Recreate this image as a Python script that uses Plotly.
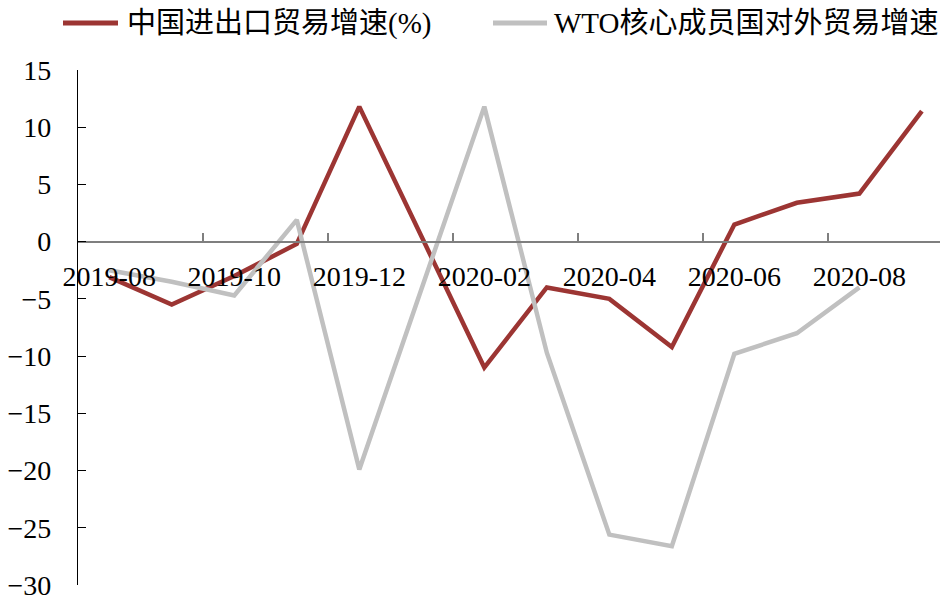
import plotly.graph_objects as go

# Monthly categories
months = ["2019-08", "2019-09", "2019-10", "2019-11", "2019-12", "2020-01", "2020-02",
          "2020-03", "2020-04", "2020-05", "2020-06", "2020-07", "2020-08", "2020-09"]

# Year-on-year trade growth (%)
china_trade = [-3.1, -5.5, -3.0, -0.2, 11.8, 0.3, -11.0, -4.0, -5.0, -9.2, 1.5, 3.4, 4.2, 11.4]
wto_trade = [-2.5, -3.5, -4.7, 1.9, -19.9, -4.0, 11.8, -9.7, -25.6, -26.6, -9.8, -8.0, -4.0, None]

series_names = ["中国进出口贸易增速(%)", "WTO核心成员国对外贸易增速"]
series_colors = ["#9C3533", "#C0C0C0"]

W, H = 942, 597
ML, MR, MT, MB = 78, 2, 70, 12
PW, PH = W - ML - MR, H - MT - MB

Y_MIN, Y_MAX = -30, 15

FONT = "Liberation Serif, Times New Roman, Noto Sans CJK SC, serif"


def px_x(px):
    return (px - ML) / PW


def px_y(py):
    return (H - MB - py) / PH


fig = go.Figure()
for name, vals, col in zip(series_names, [china_trade, wto_trade], series_colors):
    fig.add_trace(go.Scatter(
        x=months, y=vals, name=name, mode="lines",
        line=dict(color=col, width=4.5), showlegend=False,
    ))

# Hand-placed legend row across the top
legend_items = [(63, 118, 125, 29), (493, 547, 552, 29)]
shapes, annotations = [], []
ly = 23
for (x0, x1, tx, fs), name, col in zip(legend_items, series_names, series_colors):
    shapes.append(dict(type="line", xref="paper", yref="paper",
                       x0=px_x(x0), x1=px_x(x1), y0=px_y(ly), y1=px_y(ly),
                       line=dict(color=col, width=5)))
    annotations.append(dict(xref="paper", yref="paper", x=px_x(tx), y=px_y(ly),
                            xanchor="left", yanchor="middle", showarrow=False,
                            text=name, font=dict(family=FONT, size=fs, color="black")))

fig.update_layout(
    width=W, height=H, autosize=False,
    margin=dict(l=ML, r=MR, t=MT, b=MB, pad=0, autoexpand=False),
    paper_bgcolor="white", plot_bgcolor="white",
    font=dict(family=FONT, size=28, color="black"),
    shapes=shapes, annotations=annotations,
    xaxis=dict(
        type="category", range=[-0.5, 13.29], automargin=False,
        anchor="free", position=(0 - Y_MIN) / (Y_MAX - Y_MIN),
        showline=True, linecolor="#7F7F7F", linewidth=2,
        ticks="inside", ticklen=8, tickcolor="#7F7F7F", tickwidth=1.5,
        tickson="boundaries", tickmode="linear", tick0=0, dtick=2,
        showgrid=False, zeroline=False, tickangle=0,
        tickfont=dict(family=FONT, size=28, color="black"),
        ticklabelstandoff=10, ticklabeloverflow="allow",
    ),
    yaxis=dict(
        range=[Y_MIN, Y_MAX], dtick=5, tick0=0, automargin=False,
        showline=True, linecolor="black", linewidth=1.2,
        ticks="inside", ticklen=8, tickcolor="black", tickwidth=1.2,
        showgrid=False, zeroline=False,
        tickfont=dict(family=FONT, size=28, color="black"),
        ticklabelstandoff=20, ticklabeloverflow="allow",
    ),
)

fig.write_html("out.html")
